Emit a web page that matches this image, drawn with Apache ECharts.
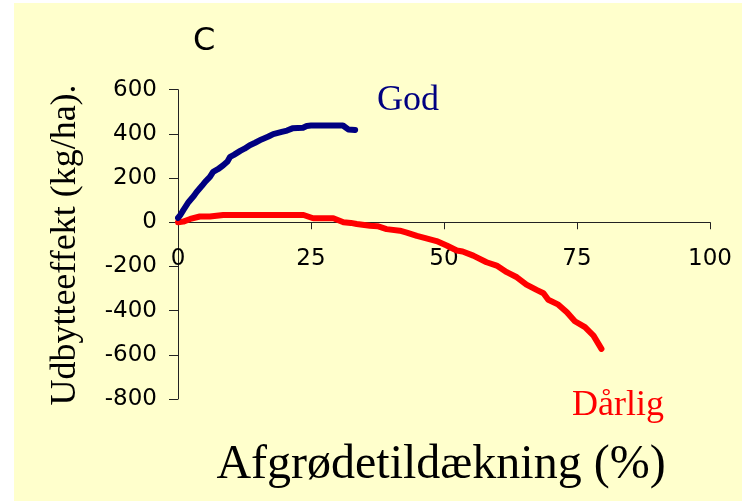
<!DOCTYPE html>
<html>
<head>
<meta charset="utf-8">
<script src="https://cdn.jsdelivr.net/npm/echarts@6/dist/echarts.min.js"></script>
<style>
  html, body { margin: 0; padding: 0; background: #ffffff; width: 742px; height: 501px; overflow: hidden; }
  #chart { position: absolute; left: 14px; top: 3px; width: 728px; height: 498px; }
</style>
</head>
<body>
<div id="chart"></div>
<script>
// Crop cover (%) on the x axis, yield effect (kg/ha) on the y axis
const xTicks = [0, 25, 50, 75, 100];
const yTicks = [-800, -600, -400, -200, 0, 200, 400, 600];

// "God" — good competitiveness
const godX = [0, 0.5, 1, 2, 3, 3.5, 4.5, 5.1, 6, 6.6, 7.5, 8.5, 9.3, 9.8, 10.5, 11.7, 12.5, 13.5, 14.5, 15.7, 17, 17.9, 19.5, 20.5, 21.5, 23.5, 24.2, 25, 28, 31, 32, 33.3];
const godY = [20, 35, 55, 92, 120, 137, 165, 183, 205, 228, 240, 258, 275, 296, 305, 323, 333, 349, 360, 375, 388, 399, 409, 415, 425, 428, 436, 438, 438, 438, 420, 418];

// "Dårlig" — poor competitiveness
const darligX = [0, 1, 2.3, 4.1, 6, 8.5, 12, 18, 23.6, 25.4, 29.2, 31.1, 32.5, 33.6, 36.1, 37.5, 39.2, 41.7, 43, 44.9, 46.5, 48.6, 50.5, 52.4, 53.5, 55.5, 58, 59.9, 61.8, 63.7, 65.5, 67.4, 68.7, 69.6, 71.5, 73.1, 74.6, 76.5, 78.1, 79.6];
const darligY = [0, 3, 15, 26, 26, 33, 33, 33, 33, 18, 18, 0, -3, -8, -16, -18, -31, -38, -47, -62, -72, -85, -105, -128, -132, -151, -181, -196, -226, -249, -282, -306, -321, -351, -373, -407, -448, -475, -513, -573];

const pairs = (xs, ys) => xs.map((x, i) => [x, ys[i]]);

const axisColor = '#222222';
const tickFont = { fontFamily: 'DejaVu Sans', fontSize: 23, color: '#000000' };

// plot area inside the chart box
const grid = { left: 164, right: 32, top: 86.7, bottom: 102 };
const plotH = 498 - grid.top - grid.bottom;
const yMin = yTicks[0], yMax = yTicks[yTicks.length - 1];
// the x axis (with its labels) sits on the y = 0 line
const xAxisOffset = -plotH * (0 - yMin) / (yMax - yMin);

const chart = echarts.init(document.getElementById('chart'), null, { renderer: 'canvas' });
chart.setOption({
  backgroundColor: '#FFFFCC',
  animation: false,
  grid: Object.assign({ containLabel: false }, grid),
  xAxis: {
    type: 'value',
    position: 'bottom',
    offset: xAxisOffset,
    min: xTicks[0],
    max: xTicks[xTicks.length - 1],
    interval: xTicks[1] - xTicks[0],
    axisLine: { show: true, onZero: false, lineStyle: { color: axisColor, width: 1 } },
    axisTick: { show: true, inside: false, length: 7, lineStyle: { color: axisColor } },
    axisLabel: Object.assign({ margin: 25 }, tickFont),
    splitLine: { show: false }
  },
  yAxis: {
    type: 'value',
    min: yMin,
    max: yMax,
    interval: yTicks[1] - yTicks[0],
    axisLine: { show: true, onZero: false, lineStyle: { color: axisColor, width: 1 } },
    axisTick: { show: true, inside: false, length: 9, lineStyle: { color: axisColor } },
    axisLabel: Object.assign({ margin: 21 }, tickFont),
    splitLine: { show: false }
  },
  series: [
    {
      name: 'God',
      type: 'line',
      data: pairs(godX, godY),
      showSymbol: false,
      smooth: false,
      lineStyle: { color: '#000080', width: 6, cap: 'round', join: 'round' },
      z: 3
    },
    {
      name: 'Dårlig',
      type: 'line',
      data: pairs(darligX, darligY),
      showSymbol: false,
      smooth: false,
      lineStyle: { color: '#FF0000', width: 6, cap: 'round', join: 'round' },
      z: 2
    }
  ],
  graphic: [
    {
      type: 'text', x: 179, y: 22.7,
      style: { text: 'C', font: '32px "DejaVu Sans"', fill: '#000000', textAlign: 'left', textVerticalAlign: 'top' }
    },
    {
      type: 'text', x: 363, y: 80,
      style: { text: 'God', font: '36px "Liberation Serif"', fill: '#000080', textAlign: 'left', textVerticalAlign: 'top' }
    },
    {
      type: 'text', x: 604, y: 385,
      style: { text: 'Dårlig', font: '36px "Liberation Serif"', fill: '#FF0000', textAlign: 'center', textVerticalAlign: 'top' }
    },
    {
      type: 'text', x: 427, y: 438,
      style: { text: 'Afgrødetildækning (%)', font: '48px "Liberation Serif"', fill: '#000000', textAlign: 'center', textVerticalAlign: 'top' }
    },
    {
      type: 'text', x: 52, y: 242, rotation: Math.PI / 2,
      style: { text: 'Udbytteeffekt (kg/ha).', font: '36px "Liberation Serif"', fill: '#000000', textAlign: 'center', textVerticalAlign: 'middle' }
    }
  ]
});
</script>
</body>
</html>
